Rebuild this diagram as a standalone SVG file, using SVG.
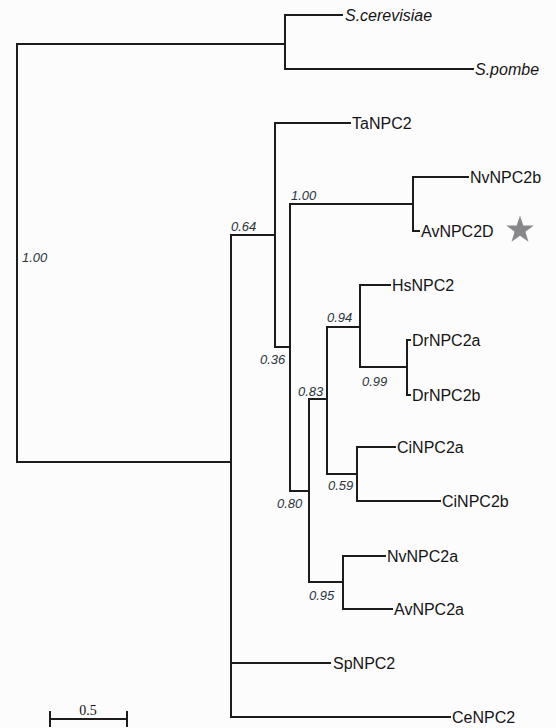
<svg xmlns="http://www.w3.org/2000/svg" width="556" height="728" viewBox="0 0 556 728">
<style>
.br{fill:none;stroke:#1c1c1c;stroke-width:2;stroke-linecap:square}
.leaf{font-family:"Liberation Sans",Arial,sans-serif;font-size:16px;fill:#151515}
.sp{font-style:italic}
.bs{font-family:"Liberation Sans",Arial,sans-serif;font-size:13px;font-style:italic;fill:#2a343c}
.scale{font-family:"Liberation Serif","Times New Roman",serif;font-size:14px;fill:#111}
</style>
<rect width="556" height="728" fill="#fcfcfd"/>
<g id="connectors" class="br">
<path d="M17,44 V462 M17,44 H285 M17,462 H231"/>
<path d="M285,15 V69 M285,15 H342 M285,69 H473"/>
<path d="M231,235 V717 M231,663 H330 M231,717 H450 M231,235 H275"/>
<path d="M275,123 V347 M275,123 H350 M275,347 H290"/>
<path d="M290,204 V491 M290,204 H413 M290,491 H309"/>
<path d="M413,177 V231 M413,177 H468 M413,231 H419"/>
<path d="M309,399 V582 M309,399 H327 M309,582 H343"/>
<path d="M327,327 V474 M327,327 H360 M327,474 H357"/>
<path d="M360,285 V367 M360,285 H390 M360,367 H407"/>
<path d="M407,340 V395 M407,340 H410 M407,395 H410"/>
<path d="M357,447 V501 M357,447 H395 M357,501 H440"/>
<path d="M343,556 V609 M343,556 H385 M343,609 H392"/>
</g>
<g id="node-root"><text class="bs" x="22" y="262">1.00</text></g>
<g id="node-scerevisiae"><text class="leaf sp" x="345" y="21">S.cerevisiae</text></g>
<g id="node-spombe"><text class="leaf sp" x="475" y="75">S.pombe</text></g>
<g id="node-064"><text class="bs" x="231" y="231">0.64</text></g>
<g id="node-TaNPC2"><text class="leaf" x="352" y="129">TaNPC2</text></g>
<g id="node-100"><text class="bs" x="291" y="200">1.00</text></g>
<g id="node-NvNPC2b"><text class="leaf" x="470" y="183">NvNPC2b</text></g>
<g id="node-AvNPC2D"><text class="leaf" x="421" y="237">AvNPC2D</text>
<polygon fill="#88888a" points="520,215.5 523.3,225.4 533.8,225.5 525.4,231.8 528.5,241.7 520,235.7 511.5,241.7 514.6,231.8 506.2,225.5 516.7,225.4"/></g>
<g id="node-036"><text class="bs" x="260" y="364">0.36</text></g>
<g id="node-083"><text class="bs" x="298" y="396">0.83</text></g>
<g id="node-094"><text class="bs" x="327" y="322">0.94</text></g>
<g id="node-HsNPC2"><text class="leaf" x="392" y="291">HsNPC2</text></g>
<g id="node-099"><text class="bs" x="362" y="386">0.99</text></g>
<g id="node-DrNPC2a"><text class="leaf" x="412" y="346">DrNPC2a</text></g>
<g id="node-DrNPC2b"><text class="leaf" x="412" y="401">DrNPC2b</text></g>
<g id="node-059"><text class="bs" x="328" y="490">0.59</text></g>
<g id="node-CiNPC2a"><text class="leaf" x="397" y="453">CiNPC2a</text></g>
<g id="node-CiNPC2b"><text class="leaf" x="442" y="507">CiNPC2b</text></g>
<g id="node-080"><text class="bs" x="277" y="508">0.80</text></g>
<g id="node-095"><text class="bs" x="309" y="600">0.95</text></g>
<g id="node-NvNPC2a"><text class="leaf" x="387" y="562">NvNPC2a</text></g>
<g id="node-AvNPC2a"><text class="leaf" x="394" y="615">AvNPC2a</text></g>
<g id="node-SpNPC2"><text class="leaf" x="333" y="669">SpNPC2</text></g>
<g id="node-CeNPC2"><text class="leaf" x="452" y="723">CeNPC2</text></g>
<g id="scale-bar">
<path class="br" d="M50,719 H127 M50,712 V726 M127,712 V726"/>
<text class="scale" x="88" y="715" text-anchor="middle">0.5</text>
</g>
</svg>
